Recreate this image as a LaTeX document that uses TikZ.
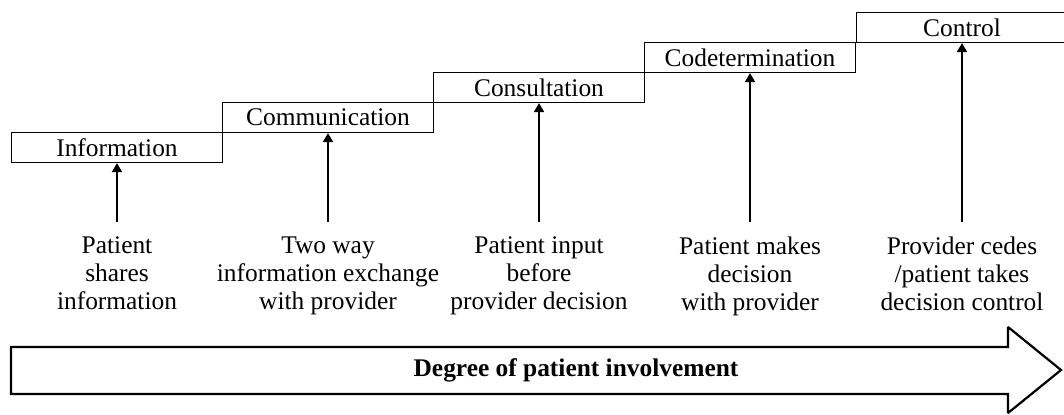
\documentclass[tikz,border=0pt]{standalone}
\usepackage{fontspec}
\setmainfont{Liberation Serif}
\usetikzlibrary{arrows.meta}

\begin{document}
\begin{tikzpicture}[x=0.5pt,y=-0.5pt,
    every node/.style={font=\fontsize{12.7}{14}\selectfont},
    stair/.style={draw,line width=0.6pt,minimum width=105.5pt,minimum height=15pt,inner sep=0pt},
    level/.style={align=center,anchor=north,inner xsep=0pt,inner ysep=7pt},
    rise/.style={-{Triangle[length=4.5pt,width=5pt]},line width=1pt}]
        \useasboundingbox (0,0) rectangle (1064,414);
        % the stairs
        \node[stair] (info) at (117,147.5) {Information};
        \node[stair] (comm) at (328,117.5) {Communication};
        \node[stair] (consult) at (539,87.5) {Consultation};
        \node[stair] (codet) at (750,57.5) {Codetermination};
        \node[stair] (ctrl) at (962,27.5) {Control};
        % what the patient does at each stair
        \node[level] (infotxt) at (117,222) {Patient\\shares\\information};
        \node[level] (commtxt) at (328,222) {Two way\\information exchange\\with provider};
        \node[level] (consulttxt) at (539,222) {Patient input\\before\\provider decision};
        \node[level] (codettxt) at (750,222) {Patient makes\\decision\\with provider};
        \node[level] (ctrltxt) at (962,222) {Provider cedes\\/patient takes\\decision control};
        \draw[rise] (infotxt.north) -- (info.south);
        \draw[rise] (commtxt.north) -- (comm.south);
        \draw[rise] (consulttxt.north) -- (consult.south);
        \draw[rise] (codettxt.north) -- (codet.south);
        \draw[rise] (ctrltxt.north) -- (ctrl.south);
        % big arrow
        \draw[line width=1.1pt,miter limit=2] (11,347) -- (1008,347) -- (1008,327) -- (1061,370) -- (1008,413) -- (1008,394) -- (11,394) -- cycle;
        \node[font=\fontsize{12.7}{14}\selectfont\bfseries] (degree) at (576,370) {Degree of patient involvement};
    \end{tikzpicture}
\end{document}
